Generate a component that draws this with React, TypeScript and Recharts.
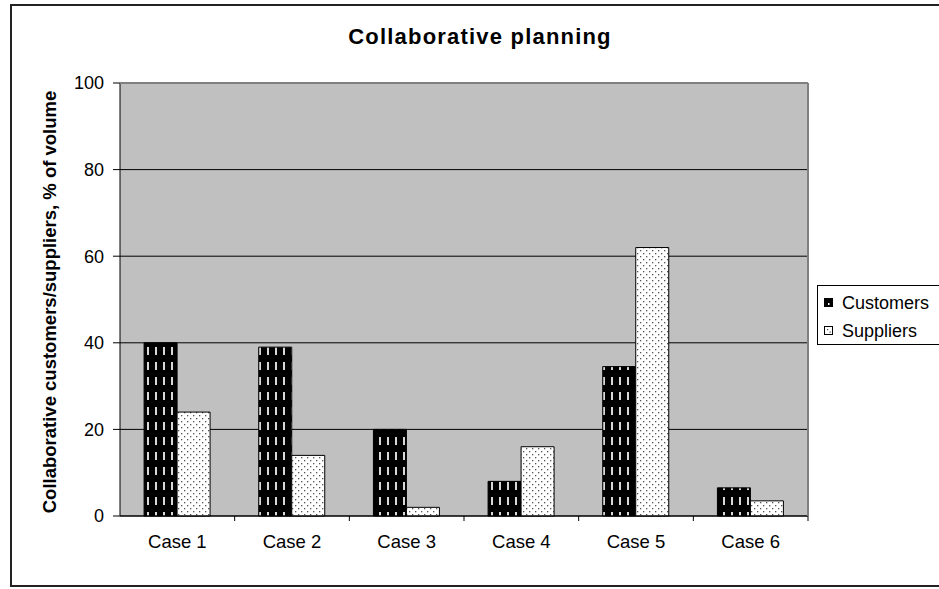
import { BarChart, Bar, XAxis, YAxis, CartesianGrid } from 'recharts';

const cases = ['Case 1', 'Case 2', 'Case 3', 'Case 4', 'Case 5', 'Case 6'];
const customers = [40, 39, 20, 8, 34.5, 6.5];
const suppliers = [24, 14, 2, 16, 62, 3.5];
const yTicks = [0, 20, 40, 60, 80, 100];

const data = cases.map((c, i) => ({ name: c, customers: customers[i], suppliers: suppliers[i] }));

const FONT = 'Arial, "Liberation Sans", sans-serif';
const PLOT_W = 688;

const XTick = ({ x, y, payload }: any) => {
  const step = PLOT_W / cases.length;
  return (
    <g>
      <line x1={x + step / 2} y1={y - 8} x2={x + step / 2} y2={y - 3} stroke="#000" />
      <text x={x} y={y + 24} textAnchor="middle" fontSize={18.5} fill="#000" fontFamily={FONT}>
        {payload.value}
      </text>
    </g>
  );
};

const LegendBox = () => (
  <div
    style={{
      position: 'absolute',
      left: 817,
      top: 285,
      width: 140,
      height: 60,
      border: '1px solid #000',
      background: '#fff',
      fontFamily: FONT,
      fontSize: 18,
      boxSizing: 'border-box',
      padding: '3px 0 0 6px',
    }}
  >
    <div style={{ display: 'flex', alignItems: 'center', height: 28 }}>
      <svg width={10} height={10} style={{ marginRight: 8 }}>
        <rect x={0.5} y={0.5} width={8} height={8} fill="#000" stroke="#000" />
        <rect x={4} y={5} width={1.5} height={2} fill="#fff" />
      </svg>
      Customers
    </div>
    <div style={{ display: 'flex', alignItems: 'center', height: 28 }}>
      <svg width={10} height={10} style={{ marginRight: 8 }}>
        <rect x={0.5} y={0.5} width={8} height={8} fill="#fff" stroke="#000" />
        <rect x={3} y={3} width={1.2} height={1.2} fill="#444" />
        <rect x={5.5} y={5.5} width={1.2} height={1.2} fill="#444" />
      </svg>
      Suppliers
    </div>
  </div>
);

export default function App() {
  return (
    <div style={{ position: 'absolute', left: 0, top: 0, width: 939, height: 589, overflow: 'hidden', background: '#fff' }}>
      <div
        style={{
          position: 'absolute',
          left: 10,
          top: 4,
          width: 940,
          height: 583,
          border: '2px solid #222',
          boxSizing: 'border-box',
        }}
      />
      <div
        style={{
          position: 'absolute',
          left: 0,
          top: 24,
          width: 960,
          textAlign: 'center',
          fontFamily: FONT,
          fontWeight: 'bold',
          fontSize: 22,
          letterSpacing: 1.2,
        }}
      >
        Collaborative planning
      </div>
      <div
        style={{
          position: 'absolute',
          left: 50,
          top: 302,
          transform: 'translate(-50%, -50%) rotate(-90deg)',
          whiteSpace: 'nowrap',
          fontFamily: FONT,
          fontWeight: 'bold',
          fontSize: 18.5,
        }}
      >
        Collaborative customers/suppliers, % of volume
      </div>
      <div style={{ position: 'absolute', left: 0, top: 0 }}>
        <BarChart
          width={939}
          height={589}
          data={data}
          margin={{ top: 83, right: 131, bottom: 43, left: 60 }}
          barCategoryGap="21%"
          barGap={0}
        >
          <defs>
            <pattern id="custPat" width={8} height={15} patternUnits="userSpaceOnUse">
              <rect width={8} height={15} fill="#000" />
              <rect x={3} y={2} width={2} height={8} fill="#d8d8d8" />
            </pattern>
            <pattern id="suppPat" width={6} height={6} patternUnits="userSpaceOnUse">
              <rect width={6} height={6} fill="#fff" />
              <rect x={1} y={1} width={1.3} height={1.3} fill="#555" />
              <rect x={4} y={4} width={1.3} height={1.3} fill="#555" />
            </pattern>
          </defs>
          <CartesianGrid
            vertical={false}
            stroke="#000"
            strokeOpacity={1}
            fill="#c0c0c0"
            fillOpacity={1}
          />
          <XAxis
            dataKey="name"
            axisLine={{ stroke: '#000' }}
            tickLine={false}
            tick={<XTick />}
            interval={0}
          />
          <YAxis
            width={60}
            domain={[0, 100]}
            ticks={yTicks}
            axisLine={{ stroke: '#000' }}
            tickLine={{ stroke: '#000' }}
            tickSize={7}
            tickMargin={9}
            tick={{ fontSize: 18, fill: '#000', fontFamily: FONT }}
          />
          <Bar dataKey="customers" name="Customers" fill="url(#custPat)" stroke="#000" strokeWidth={1} isAnimationActive={false} />
          <Bar dataKey="suppliers" name="Suppliers" fill="url(#suppPat)" stroke="#000" strokeWidth={1} isAnimationActive={false} />
        </BarChart>
      </div>
      <div
        style={{
          position: 'absolute',
          left: 120,
          top: 83,
          width: 689,
          height: 433,
          borderTop: '1px solid #808080',
          borderRight: '2px solid #808080',
          boxSizing: 'border-box',
          pointerEvents: 'none',
        }}
      />
      <LegendBox />
    </div>
  );
}
